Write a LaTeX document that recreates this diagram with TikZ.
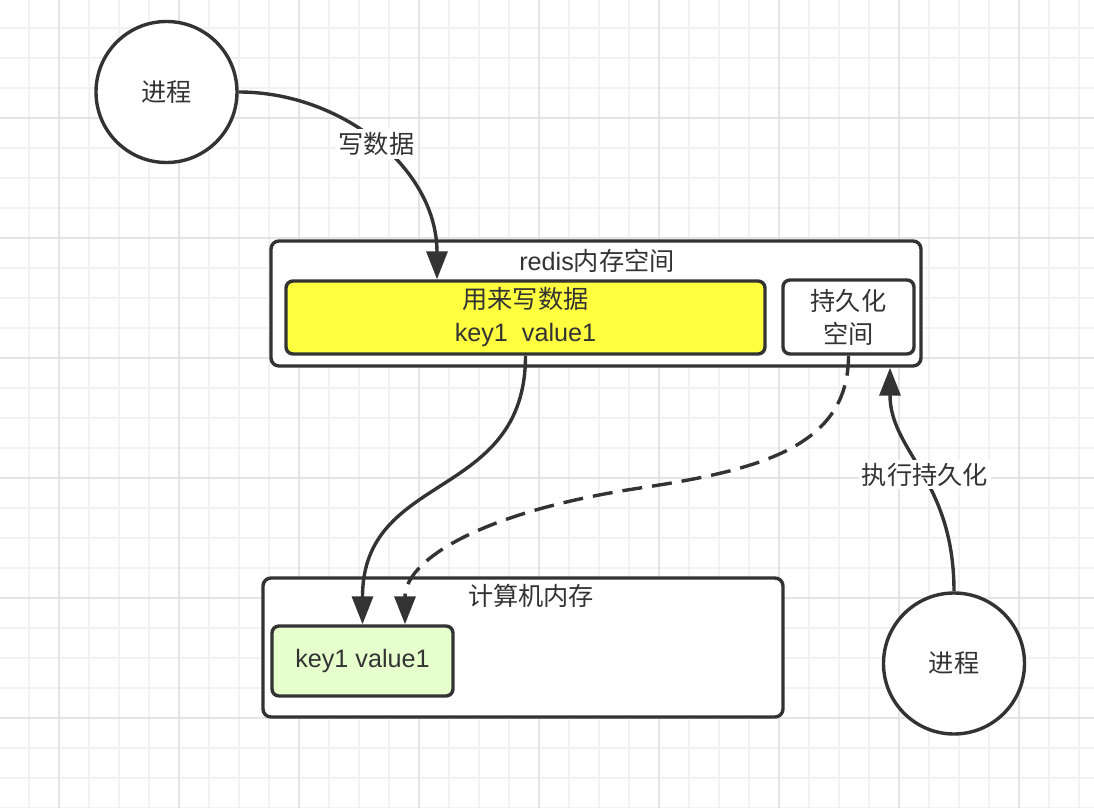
\documentclass[tikz,border=0pt]{standalone}
\usepackage{fontspec}
\setmainfont{Liberation Sans}
\newfontfamily\cjk{Noto Sans CJK SC}
\usetikzlibrary{arrows.meta}
\definecolor{ink}{HTML}{333333}
\definecolor{gridminor}{HTML}{F2F2F2}
\definecolor{gridmajor}{HTML}{E4E4E4}
\definecolor{hlyellow}{HTML}{FFFF40}
\definecolor{hlgreen}{HTML}{E6FFCC}
\tikzset{
  txt/.style={text=ink, font=\fontsize{12.6pt}{16.5pt}\selectfont},
  proc/.style={txt, circle, draw=ink, line width=1.7pt, fill=white, minimum size=70.5pt, inner sep=0pt},
  container/.style={draw=ink, line width=1.7pt, rounded corners=4pt, fill=white, inner sep=0pt},
  inner/.style={txt, draw=ink, line width=1.7pt, rounded corners=3.5pt, inner sep=0pt, align=center},
  link/.style={draw=ink, line width=1.7pt, -{Triangle[length=14pt,width=10.5pt]}},
  edgelabel/.style={txt, fill=white, inner sep=1.5pt},
}
\begin{document}
\begin{tikzpicture}[x=0.5pt,y=-0.5pt]
\useasboundingbox (0,0) rectangle (1094,808);
\fill[white] (0,0) rectangle (1094,808);
% grid
\foreach \x in {-1,29,...,1094} \draw[gridminor, line width=1pt] (\x,0) -- (\x,808);
\foreach \y in {28,58,...,808} \draw[gridminor, line width=1pt] (0,\y) -- (1094,\y);
\foreach \x in {59,179,...,1094} \draw[gridmajor, line width=1pt] (\x,0) -- (\x,808);
\foreach \y in {118,238,...,808} \draw[gridmajor, line width=1pt] (0,\y) -- (1094,\y);

% processes
\node[proc] (p1) at (166.5,92) {\cjk 进程};
\node[proc] (p2) at (954,663.5) {\cjk 进程};

% redis memory
\node[container, minimum width=325pt, minimum height=62.5pt] (redis) at (596,303.5) {};
\node[txt] (redistitle) at (597,261) {redis{\cjk 内存空间}};
\node[inner, fill=hlyellow, minimum width=239.5pt, minimum height=36.5pt] (yellow) at (525.5,317.5)
  {{\cjk 用来写数据}\\key1\ \ value1};
\node[inner, fill=white, minimum width=65.5pt, minimum height=37pt] (persist) at (848.5,317)
  {{\cjk 持久化}\\{\cjk 空间}};

% computer memory
\node[container, minimum width=260pt, minimum height=69.5pt] (mem) at (523,647.5) {};
\node[txt] (memtitle) at (531,596) {\cjk 计算机内存};
\node[inner, fill=hlgreen, minimum width=90.5pt, minimum height=35pt] (green) at (362.5,661) {key1 value1};

% connectors
\draw[link] (p1.east) .. controls +(51.5pt,0) and +(0,55.5pt) .. ([xshift=-44.25pt]yellow.north)
  node[edgelabel, pos=0.5] (l1) {\cjk 写数据};
\draw[link] (yellow.south) .. controls +(0,-73pt) and +(0,77pt) .. (green.north);
\coordinate (mid) at (640,488);
\draw[link, dash pattern=on 10pt off 5pt] (persist.south) .. controls +(0,-45.5pt) and +(60pt,9pt) .. (mid)
  .. controls +(-80pt,-12pt) and +(0,32pt) .. ([xshift=21.25pt]green.north);
\draw[link] (p2.north) .. controls +(0,56pt) and +(0,-42pt) .. ([xshift=147pt]redis.south)
  node[edgelabel, pos=0.47] (l2) {\cjk 执行持久化};
\end{tikzpicture}
\end{document}
